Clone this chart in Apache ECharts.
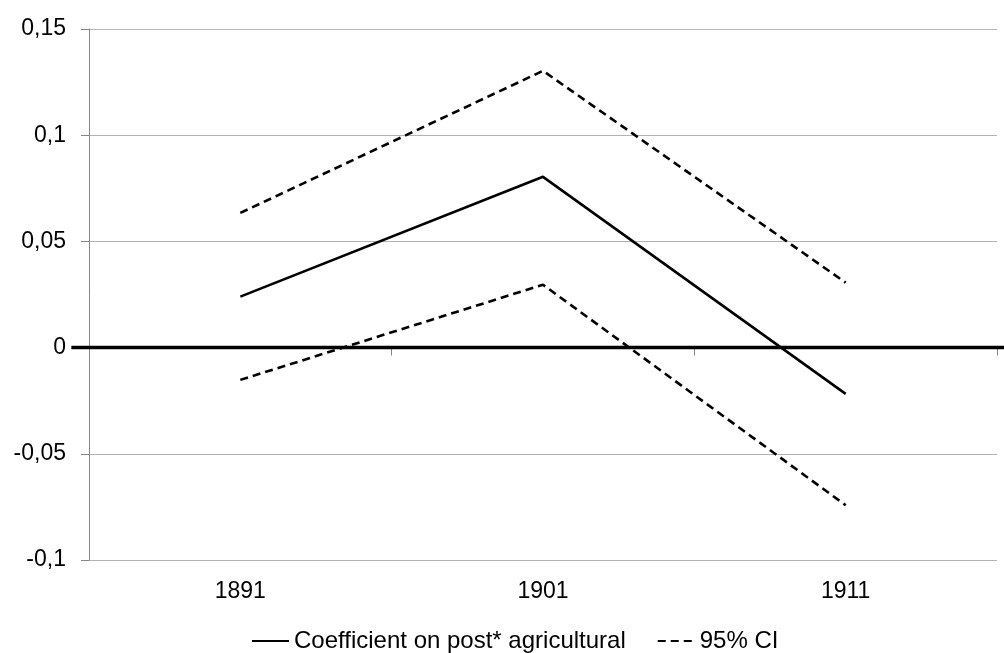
<!DOCTYPE html>
<html>
<head>
<meta charset="utf-8">
<script src="https://cdn.jsdelivr.net/npm/echarts@6/dist/echarts.min.js"></script>
<style>
html,body{margin:0;padding:0;background:#fff;}
#main{width:1004px;height:653px;}
</style>
</head>
<body>
<div id="main"></div>
<script>
var categories = ['1891', '1901', '1911'];
var coefficient = [0.024, 0.0804, -0.0218];
var ciUpper = [0.0634, 0.1303, 0.0306];
var ciLower = [-0.0152, 0.0296, -0.0742];
var coefName = 'Coefficient on post* agricultural';
var ciName = '95% CI';

var FONT = '"Liberation Sans", Arial, sans-serif';
var chart = echarts.init(document.getElementById('main'));
var dash = [8, 5];
chart.setOption({
  animation: false,
  backgroundColor: '#ffffff',
  grid: { left: 89, right: 7, top: 29, bottom: 93 },
  legend: {
    data: [coefName, ciName],
    left: 246, top: 624,
    itemWidth: 37, itemHeight: 14, itemGap: 31,
    itemStyle: { color: 'rgba(0,0,0,0)', borderWidth: 0, opacity: 0 },
    textStyle: { fontFamily: FONT, fontSize: 24, color: '#000' }
  },
  xAxis: {
    type: 'category',
    data: categories,
    boundaryGap: true,
    axisLine: { lineStyle: { color: '#868686', width: 1 } },
    axisTick: { show: true, length: 8, lineStyle: { color: '#868686' } },
    axisLabel: { fontFamily: FONT, fontSize: 23, color: '#000', margin: 20 },
    splitLine: { show: false }
  },
  yAxis: {
    type: 'value',
    min: -0.1, max: 0.15, interval: 0.05,
    axisLine: { show: true, lineStyle: { color: '#868686', width: 1 } },
    axisTick: { show: true, length: 8, lineStyle: { color: '#868686' } },
    axisLabel: {
      fontFamily: FONT, fontSize: 23, color: '#000', margin: 23,
      formatter: function (v) { return String(Math.round(v * 1000) / 1000).replace('.', ','); }
    },
    splitLine: { show: true, lineStyle: { color: '#b3b3b3', width: 1 } }
  },
  series: [
    {
      name: coefName, type: 'line', data: coefficient,
      symbol: 'none', lineStyle: { color: '#000', width: 2.6, type: 'solid' },
      itemStyle: { color: '#000' }, z: 5
    },
    {
      name: ciName, type: 'line', data: ciUpper,
      symbol: 'none', lineStyle: { color: '#000', width: 2.6, type: dash },
      itemStyle: { color: '#000' }, z: 4
    },
    {
      name: ciName, type: 'line', data: ciLower,
      symbol: 'none', lineStyle: { color: '#000', width: 2.6, type: dash },
      itemStyle: { color: '#000' }, z: 4
    }
  ]
});

// Thick zero line, positioned through the axis scale
var y0 = chart.convertToPixel({ yAxisIndex: 0 }, 0);
var xStart = chart.convertToPixel({ xAxisIndex: 0 }, 0) - 151 - 18;
chart.setOption({
  graphic: [{
    type: 'line', z: 10,
    shape: { x1: xStart, y1: y0, x2: chart.getWidth(), y2: y0 },
    style: { stroke: '#000', lineWidth: 3.5 }
  }]
});
</script>
</body>
</html>
